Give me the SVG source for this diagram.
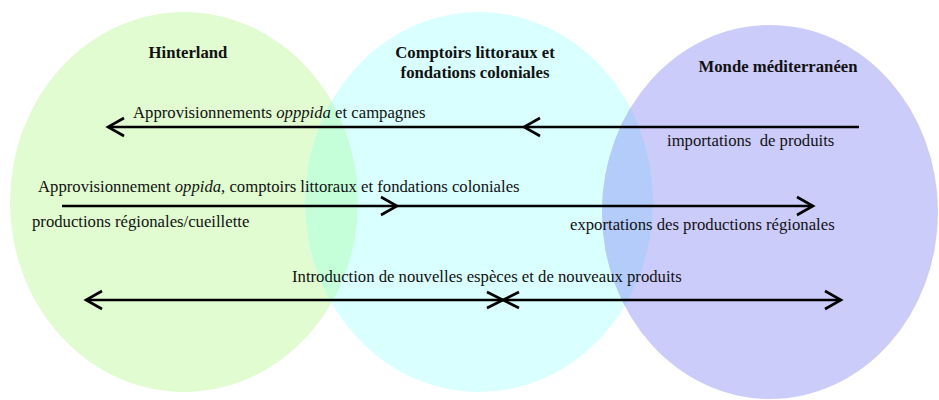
<svg xmlns="http://www.w3.org/2000/svg" width="939" height="400" viewBox="0 0 939 400">
<style>
text{font-family:"Liberation Serif","Times New Roman",serif;font-size:16.7px;fill:#111}
.b{font-weight:bold}
.ln{stroke:#000;stroke-width:2.6;fill:none}
.hd{stroke:#000;stroke-width:2.6;fill:none;stroke-linecap:butt}
</style>
<defs>
<clipPath id="cG"><ellipse cx="184" cy="202" rx="174" ry="190"/></clipPath>
<clipPath id="cC"><ellipse cx="479" cy="202" rx="174" ry="190"/></clipPath>
</defs>
<rect width="939" height="400" fill="#fff"/>
<g id="hinterland">
<ellipse cx="184" cy="202" rx="174" ry="190" fill="#E0FCD0"/>
<text class="b" x="188" y="58" text-anchor="middle">Hinterland</text>
</g>
<g id="comptoirs">
<ellipse cx="479" cy="202" rx="174" ry="190" fill="#D9FFFF"/>
<ellipse cx="479" cy="202" rx="174" ry="190" fill="#C4FFDA" clip-path="url(#cG)"/>
<text class="b" x="475" y="58" text-anchor="middle">Comptoirs littoraux et</text>
<text class="b" x="475" y="78" text-anchor="middle">fondations coloniales</text>
</g>
<g id="monde">
<ellipse cx="770" cy="212" rx="168" ry="187" fill="#CCCCFA"/>
<ellipse cx="770" cy="212" rx="168" ry="187" fill="#B3CCFA" clip-path="url(#cC)"/>
<text class="b" x="778" y="72" text-anchor="middle">Monde méditerranéen</text>
</g>
<g id="connectors">
<line class="ln" x1="108" y1="127" x2="859" y2="127"/>
<path class="hd" d="M124,118 L108,127 L124,136"/>
<path class="hd" d="M540,118 L524,127 L540,136"/>
<line class="ln" x1="62" y1="206" x2="813" y2="206"/>
<path class="hd" d="M381,197 L397,206 L381,215"/>
<path class="hd" d="M797,197 L813,206 L797,215"/>
<line class="ln" x1="86" y1="300" x2="841" y2="300"/>
<path class="hd" d="M102,291 L86,300 L102,309"/>
<path class="hd" d="M487,292 L503,300 L487,308"/>
<path class="hd" d="M519,292 L503,300 L519,308"/>
<path class="hd" d="M825,291 L841,300 L825,309"/>
</g>
<g id="labels">
<text x="133" y="118">Approvisionnements <tspan font-style="italic">opppida</tspan> et campagnes</text>
<text x="667" y="146" xml:space="preserve">importations  de produits</text>
<text x="38" y="192">Approvisionnement <tspan font-style="italic">oppida</tspan>, comptoirs littoraux et fondations coloniales</text>
<text x="32" y="227">productions régionales/cueillette</text>
<text x="570" y="230">exportations des productions régionales</text>
<text x="292" y="282">Introduction de nouvelles espèces et de nouveaux produits</text>
</g>
</svg>
